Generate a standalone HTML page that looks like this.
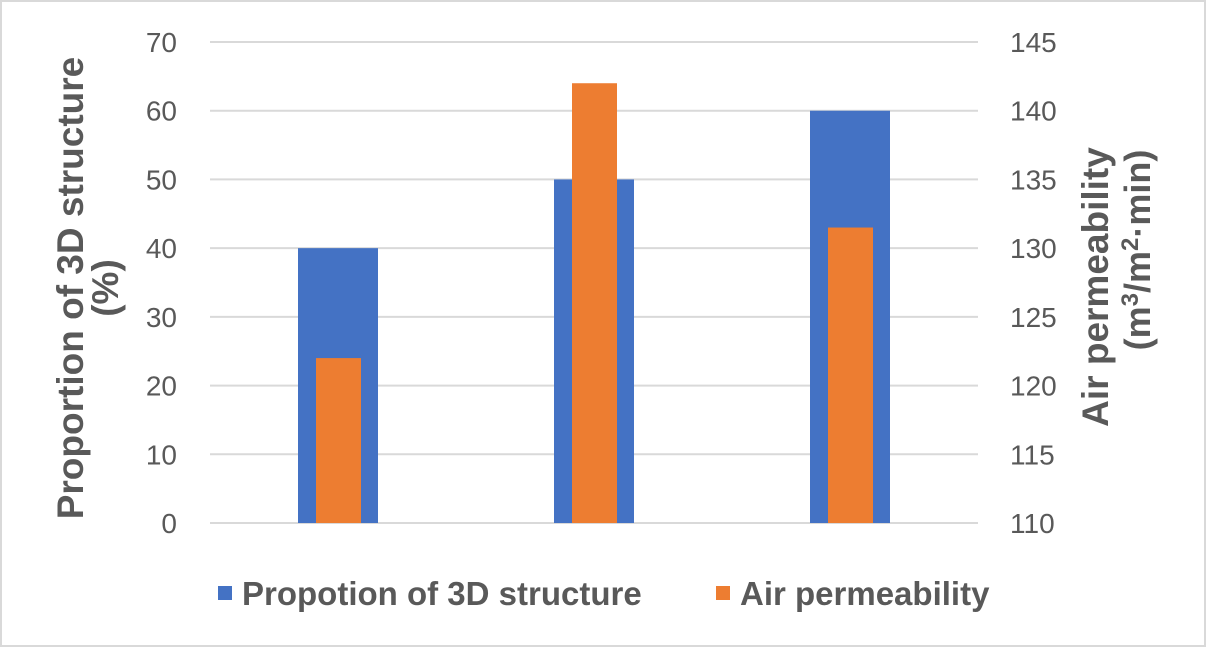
<!DOCTYPE html>
<html><head><meta charset="utf-8"><style>
html,body{margin:0;padding:0;background:#fff}
svg{display:block;font-family:"Liberation Sans",sans-serif}
</style></head><body>
<svg width="1206" height="647">
<rect x="1" y="1" width="1204" height="645" fill="#fff" stroke="#d9d9d9" stroke-width="2"/>
<g id="grid"></g><g id="bars"></g><g id="ticks"></g>
<text transform="translate(83,288) rotate(-90)" text-anchor="middle" font-size="37" font-weight="bold" fill="#595959">Proportion of 3D structure</text>
<text transform="translate(118,288) rotate(-90)" text-anchor="middle" font-size="37" font-weight="bold" fill="#595959">(%)</text>
<text transform="translate(1108,287) rotate(-90)" text-anchor="middle" font-size="37" font-weight="bold" fill="#595959">Air permeability</text>
<text transform="translate(1150,250) rotate(-90)" text-anchor="middle" font-size="36" font-weight="bold" fill="#595959">(m<tspan font-size="24" dy="-12">3</tspan><tspan dy="12">/m</tspan><tspan font-size="24" dy="-12">2</tspan><tspan dy="12">·min)</tspan></text>
<rect x="218" y="586" width="14" height="14" fill="#4472c4"/>
<text x="242" y="605" font-size="33" font-weight="bold" fill="#595959">Propotion of 3D structure</text>
<rect x="716" y="586" width="14" height="14" fill="#ed7d31"/>
<text x="740" y="605" font-size="33" font-weight="bold" fill="#595959">Air permeability</text>
</svg>
<script>
const categories=["A","B","C"];
const proportion=[40,50,60];
const airPerm=[122,142,131.5];
const leftTicks=[0,10,20,30,40,50,60,70];
const rightTicks=[110,115,120,125,130,135,140,145];
const NS="http://www.w3.org/2000/svg";
const x0=210,x1=978,yTop=42,yBot=523;
const yL=v=>yBot-(v/70)*(yBot-yTop);
const yR=v=>yBot-((v-110)/35)*(yBot-yTop);
const band=(x1-x0)/categories.length;
const cx=i=>x0+band*(i+0.5);
function mk(t,a,p){const e=document.createElementNS(NS,t);for(const k in a)e.setAttribute(k,a[k]);p.appendChild(e);return e;}
const grid=document.getElementById('grid'),bars=document.getElementById('bars'),ticks=document.getElementById('ticks');
leftTicks.forEach((v,i)=>{
 const l=mk('line',{x1:x0,x2:x1,y1:yL(v),y2:yL(v),stroke:'#d9d9d9','stroke-width':2},grid);
 
 
 const t=mk('text',{x:177,y:yL(v)+10,'text-anchor':'end','font-size':28,fill:'#595959'},ticks);
 t.textContent=v;
 
 
});
rightTicks.forEach(v=>{
 const t=mk('text',{x:1010,y:yR(v)+10,'font-size':28,fill:'#595959'},ticks);
 t.textContent=v;
 
 
});
categories.forEach((c,i)=>{
 const b=mk('rect',{x:cx(i)-40,y:yL(proportion[i]),width:80,height:yBot-yL(proportion[i]),fill:'#4472c4'},bars);
 
 
 const o=mk('rect',{x:cx(i)-22,y:yR(airPerm[i]),width:45,height:yBot-yR(airPerm[i]),fill:'#ed7d31'},bars);
 
 
});
</script>
</body></html>
